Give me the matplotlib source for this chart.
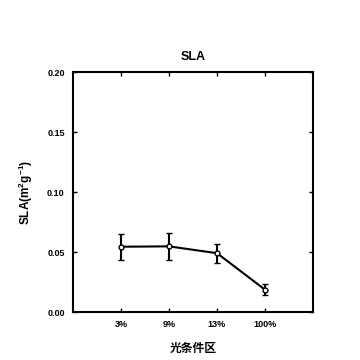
import matplotlib
matplotlib.use("Agg")
import matplotlib.pyplot as plt

categories = ["3%", "9%", "13%", "100%"]
sla = [0.0544, 0.0547, 0.0490, 0.0186]
err = [0.0110, 0.0110, 0.0078, 0.0045]
yticks = [0.00, 0.05, 0.10, 0.15, 0.20]

plt.rcParams['font.family'] = ['Liberation Sans', 'Noto Sans CJK SC', 'DejaVu Sans']
plt.rcParams['font.weight'] = 'bold'
plt.rcParams['mathtext.default'] = 'bf'
plt.rcParams['mathtext.fontset'] = 'custom'
plt.rcParams['mathtext.bf'] = 'Liberation Sans:bold'
plt.rcParams['mathtext.rm'] = 'Liberation Sans:bold'

fig = plt.figure(figsize=(3.6, 3.6), dpi=100)
ax = fig.add_axes([73/360, 1-312/360, 240/360, 240/360])
x = list(range(1, len(categories)+1))
ax.errorbar(x, sla, yerr=err, color='black', lw=1.5, elinewidth=1.5, capsize=2, capthick=1.2,
            marker='o', ms=3.5, mfc='white', mec='black', mew=1)
ax.set_xlim(0, 5)
ax.set_ylim(0, 0.20)
ax.set_xticks(x)
ax.set_xticklabels(categories)
ax.set_yticks(yticks)
ax.set_yticklabels([f"{v:.2f}" for v in yticks])
ax.tick_params(direction='in', top=True, right=True, labelsize=6.5, length=3, width=1, pad=6)
for s in ax.spines.values():
    s.set_linewidth(1.5)
ax.set_title("SLA", fontsize=9, fontweight='bold', pad=9)
ax.set_xlabel("光条件区", fontsize=8.5, fontweight='bold', family=['Noto Sans CJK SC', 'DejaVu Sans'], labelpad=9)
ax.set_ylabel("SLA(m$^2$g$^{-1}$)", fontsize=8.5, fontweight='bold', labelpad=9)
fig.savefig("out.png", dpi=100)
